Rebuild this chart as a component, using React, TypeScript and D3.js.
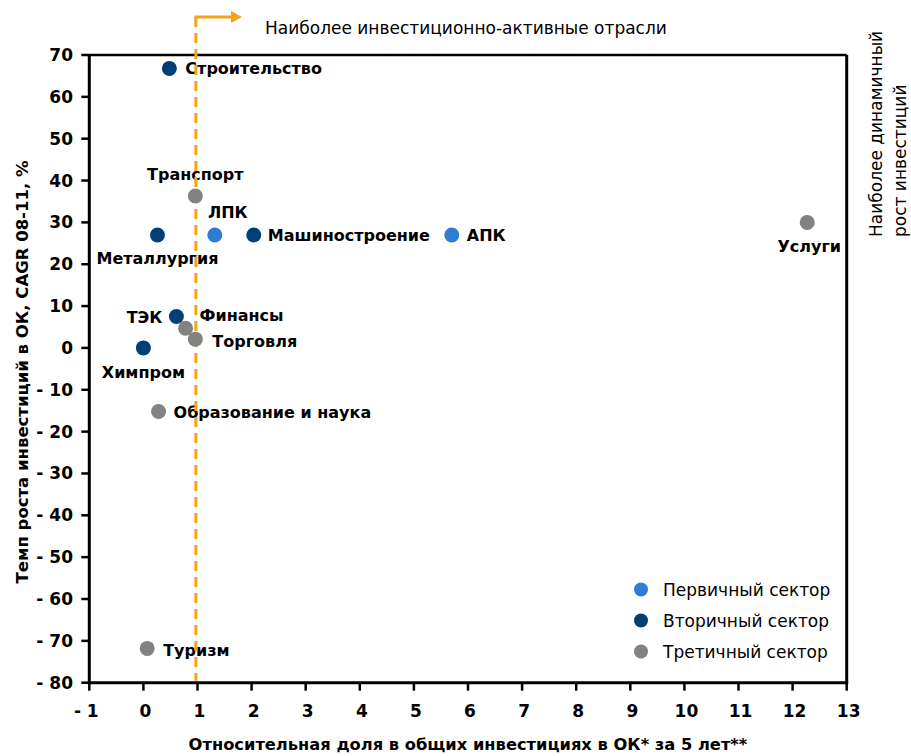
import React from "react";
import * as d3 from "d3";

const W = 911;
const H = 756;

const sectors = ["Первичный сектор", "Вторичный сектор", "Третичный сектор"];
const sectorColors = ["#2F7CD3", "#023F75", "#828282"];

const industries = [
  "Строительство",
  "Транспорт",
  "Металлургия",
  "ЛПК",
  "Машиностроение",
  "АПК",
  "Услуги",
  "ТЭК",
  "Финансы",
  "Торговля",
  "Химпром",
  "Образование и наука",
  "Туризм",
];
const shareValues = [0.48, 0.96, 0.26, 1.32, 2.04, 5.7, 12.27, 0.61, 0.78, 0.96, 0.0, 0.28, 0.07];
const growthValues = [66.8, 36.3, 27, 27, 27, 27, 30, 7.5, 4.7, 2.1, 0, -15.2, -71.8];
const sectorIndex = [1, 2, 1, 0, 1, 0, 2, 1, 2, 2, 1, 2, 2];

const xTicks = d3.range(-1, 14, 1);
const yTicks = d3.range(-80, 71, 10);
const thresholdX = 0.97;

// label placement per industry: [anchor, dx, dy]
const labelPlacement: [string, number, number][] = [
  ["start", 16, 6],
  ["middle", 0, -16],
  ["middle", 0, 29],
  ["middle", 13, -17],
  ["start", 14, 6],
  ["start", 15, 6],
  ["middle", 2, 30],
  ["end", -14, 6],
  ["start", 14, -7],
  ["start", 17, 8],
  ["middle", 0, 30],
  ["start", 15, 6],
  ["start", 16, 8],
];

const fmt = (v: number) => (v < 0 ? `- ${Math.abs(v)}` : `${v}`);

export default function App() {
  const left = 89.3;
  const right = 846.7;
  const top = 55;
  const bottom = 682.7;
  const x = d3.scaleLinear().domain([-1, 13]).range([left, right]);
  const y = d3.scaleLinear().domain([-80, 70]).range([bottom, top]);

  const bold = { fontFamily: "'DejaVu Sans', sans-serif", fontWeight: 700 } as const;
  const reg = { fontFamily: "'DejaVu Sans', sans-serif", fontWeight: 400 } as const;
  const orange = "#F5A21B";
  const tx = x(thresholdX);

  return (
    <svg width={W} height={H} style={{ position: "absolute", left: 0, top: 0, background: "#fff" }}>
      {/* frame top and right */}
      <line x1={left} x2={right} y1={top} y2={top} stroke="#000" strokeWidth={2.5} />
      <line x1={right} x2={right} y1={top} y2={bottom} stroke="#000" strokeWidth={3} />
      {/* axes */}
      <line x1={left} x2={left} y1={top - 1} y2={bottom + 1.5} stroke="#000" strokeWidth={3} />
      <line x1={left - 1.5} x2={right + 1.5} y1={bottom} y2={bottom} stroke="#000" strokeWidth={3} />
      {yTicks.map((t) => (
        <g key={"y" + t}>
          <line x1={left - 8} x2={left} y1={y(t)} y2={y(t)} stroke="#000" strokeWidth={2.5} />
          <text x={73} y={y(t) + 6} textAnchor="end" fontSize={17} style={bold}>
            {fmt(t)}
          </text>
        </g>
      ))}
      {xTicks.map((t) => (
        <g key={"x" + t}>
          <line x1={x(t)} x2={x(t)} y1={bottom} y2={bottom + 8} stroke="#000" strokeWidth={2.5} />
          <text x={x(t) + (t < 0 ? -3 : 2)} y={717} textAnchor="middle" fontSize={17} style={bold}>
            {fmt(t)}
          </text>
        </g>
      ))}
      {/* axis titles */}
      <text x={468} y={750} textAnchor="middle" fontSize={16.3} style={bold}>
        Относительная доля в общих инвестициях в ОК* за 5 лет**
      </text>
      <text
        transform={`translate(28,372) rotate(-90)`}
        textAnchor="middle"
        fontSize={16.5}
        style={bold}
      >
        Темп роста инвестиций в ОК, CAGR 08-11, %
      </text>
      {/* annotations */}
      <text x={265} y={34} fontSize={17} style={reg}>
        Наиболее инвестиционно-активные отрасли
      </text>
      <text transform={`translate(882,237) rotate(-90)`} fontSize={17} style={reg}>
        Наиболее динамичный
      </text>
      <text transform={`translate(906,237) rotate(-90)`} fontSize={17} style={reg}>
        рост инвестиций
      </text>
      {/* labels */}
      {industries.map((name, i) => {
        const [anchor, dx, dy] = labelPlacement[i];
        return (
          <text
            key={"l" + name}
            x={x(shareValues[i]) + dx}
            y={y(growthValues[i]) + dy}
            textAnchor={anchor as any}
            fontSize={16}
            style={bold}
          >
            {name}
          </text>
        );
      })}
      {/* threshold dashed line with arrow */}
      <line x1={tx} x2={tx} y1={17} y2={bottom - 2} stroke={orange} strokeWidth={3} strokeDasharray="10 6" />
      <line x1={tx - 1.5} x2={232} y1={17} y2={17} stroke={orange} strokeWidth={3} />
      <path d={`M231,11 L242,17 L231,23 Z`} fill={orange} />
      {/* points */}
      {industries.map((name, i) => (
        <circle
          key={"p" + name}
          cx={x(shareValues[i])}
          cy={y(growthValues[i])}
          r={7.5}
          fill={sectorColors[sectorIndex[i]]}
        />
      ))}
      {/* legend */}
      {sectors.map((s, i) => (
        <g key={"lg" + s}>
          <circle cx={641} cy={589.5 + i * 31} r={7} fill={sectorColors[i]} />
          <text x={663} y={595.5 + i * 31} fontSize={17} style={reg}>
            {s}
          </text>
        </g>
      ))}
    </svg>
  );
}
